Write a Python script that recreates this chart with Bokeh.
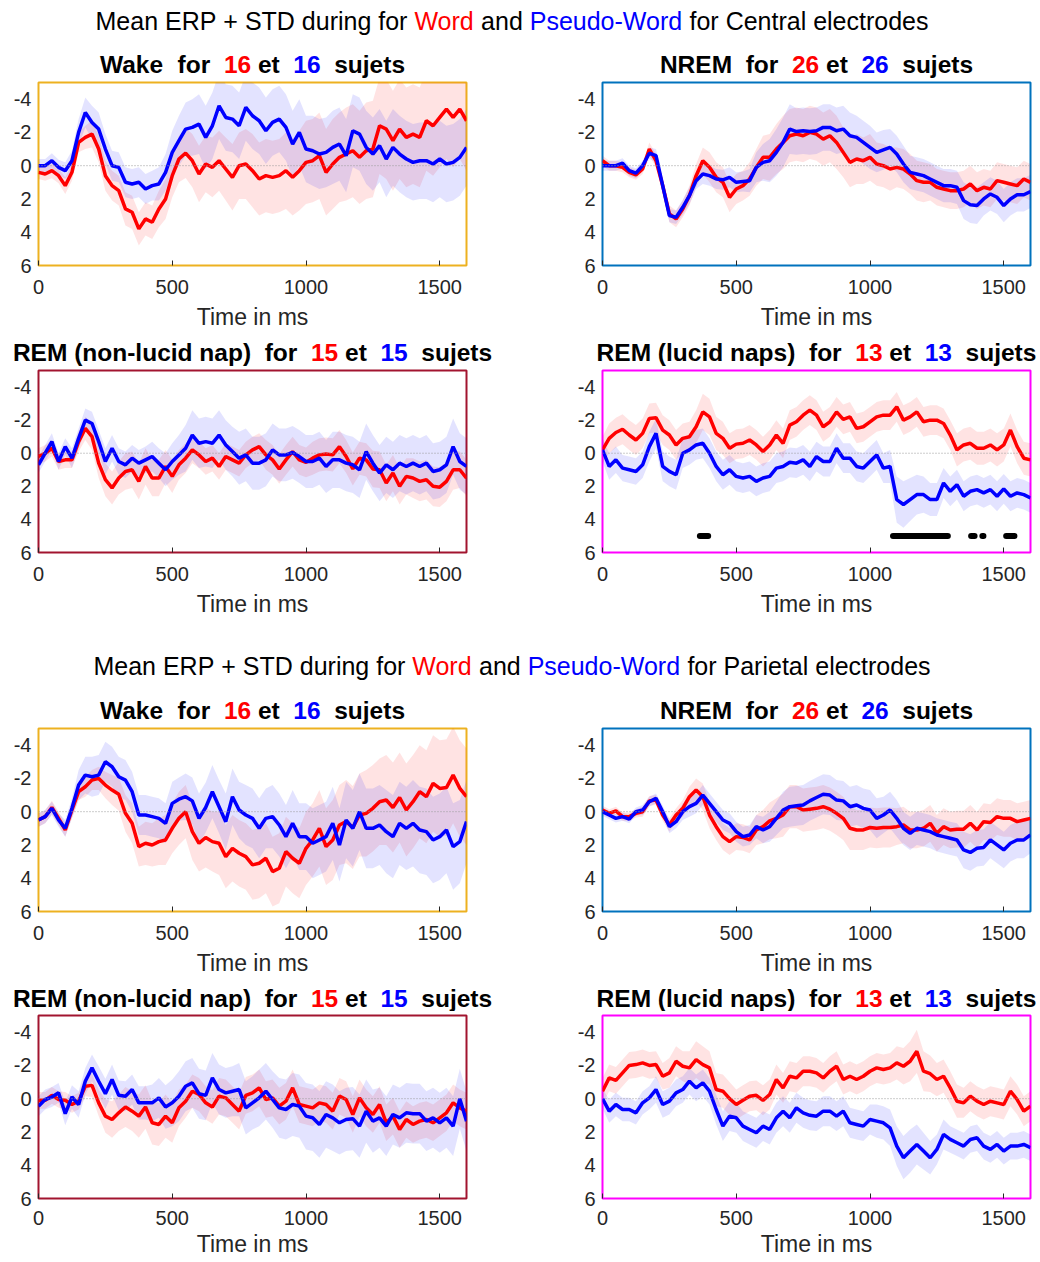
import numpy as np
from bokeh.plotting import figure
from bokeh.models import Range1d, FixedTicker, Span, Label
from bokeh.layouts import column, row
from bokeh.embed import file_html
from bokeh.resources import INLINE

# ---------------- data ----------------
time_ms = np.arange(0, 1601, 25)
x_ticks = [0, 500, 1000, 1500]
y_ticks = [-4, -2, 0, 2, 4, 6]
n_subjects = {"Wake": 16, "NREM": 26, "REM (non-lucid nap)": 15, "REM (lucid naps)": 13}

# Central electrodes
c_wake_word = [0.4,0.5,0.3,0.6,1.2, 0.4,-1.4,-1.7,-1.9,-1.0,
               0.6,1.2,1.5,2.6,2.8, 3.8,3.2,3.4,2.6,2.0,
               0.6,-0.4,-0.76,-0.3,0.5, -0.1,0.1,-0.3,0.2,0.7,
               0.0,-0.1,0.3,0.8,0.6, 0.7,0.6,0.3,0.7,0.3,
               -0.2,-0.3,-0.6,0.4,-0.1, -0.5,-0.7,-0.9,-0.5,-0.9,
               -1.0,-2.4,-2.2,-1.5,-2.2, -1.7,-1.9,-1.7,-2.7,-2.4,
               -2.9,-3.4,-2.9,-3.4,-2.7]
c_wake_pseudo = [0.0,0.0,-0.3,0.1,0.3, -0.3,-2.0,-3.2,-2.6,-2.2,
                 -1.0,0.0,0.1,1.0,1.1, 1.0,1.4,1.2,1.1,0.4,
                 -0.8,-1.5,-2.2,-2.3,-2.5, -1.7,-2.4,-3.6,-2.9,-2.8,
                 -2.4,-3.5,-3.0,-2.7,-2.1, -2.6,-2.8,-2.3,-1.3,-2.0,
                 -1.0,-0.9,-0.7,-0.8,-1.1, -1.3,-0.6,-2.1,-1.9,-1.1,
                 -0.7,-1.2,-0.4,-1.1,-0.7, -0.4,-0.2,-0.3,-0.3,-0.1,
                 -0.4,-0.1,-0.2,-0.5,-1.1]
c_wake_word_sd = [0.4,0.4,0.45,0.45,0.5, 0.5,0.6,0.7,0.8,0.8,
                  0.9,0.9,0.9,1.0,1.0, 1.0,1.0,1.0,1.1,1.2,
                  1.3,1.4,1.5,1.6,1.7, 1.7,1.8,1.8,1.9,2.0,
                  2.0,2.1,2.2,2.2,2.2, 2.2,2.2,2.3,2.3,2.4,
                  2.5,2.5,2.6,2.6,2.7, 2.7,2.8,2.8,2.8,2.9,
                  2.9,2.9,3.0,3.0,3.0, 3.0,3.0,3.0,3.0,3.0,
                  3.0,3.0,3.0,3.0,3.0]
c_wake_pseudo_sd = [0.4,0.4,0.45,0.45,0.5, 0.6,0.8,0.9,1.0,1.0,
                    0.9,0.9,0.9,0.9,0.9, 0.9,0.9,0.9,1.0,1.1,
                    1.3,1.5,1.6,1.7,1.8, 1.9,2.0,2.0,2.0,2.0,
                    2.0,2.0,2.0,2.0,2.0, 2.0,2.0,2.0,2.0,2.0,
                    2.0,2.1,2.1,2.1,2.2, 2.2,2.2,2.2,2.2,2.2,
                    2.2,2.2,2.3,2.3,2.3, 2.3,2.3,2.3,2.3,2.3,
                    2.3,2.3,2.3,2.3,2.3]

c_nrem_word = [-0.3,0.0,0.0,0.1,0.4, 0.55,0.2,-1.0,-0.3,1.2,
               2.9,3.2,2.6,1.8,0.6, -0.3,0.1,0.7,1.0,1.9,
               1.4,1.2,0.8,0.1,-0.5, -0.5,-1.0,-1.4,-1.8,-1.9,
               -1.8,-2.0,-1.9,-1.6,-1.8, -1.4,-0.8,-0.2,-0.4,-0.3,
               -0.5,-0.1,0.0,0.2,0.1, 0.2,0.5,0.9,1.0,1.0,
               1.3,1.4,1.5,1.5,1.4, 1.1,1.5,1.3,1.4,0.9,
               1.0,1.1,1.2,0.8,1.0]
c_nrem_pseudo = [0.0,0.0,0.0,-0.15,0.3, 0.45,0.0,-0.75,-0.6,1.2,
                 3.0,3.1,2.5,1.8,0.9, 0.5,0.6,0.8,0.85,0.7,
                 1.0,0.95,0.9,0.1,-0.2, -0.3,-0.8,-1.4,-2.2,-2.05,
                 -2.1,-2.05,-2.1,-2.3,-2.3, -2.1,-2.2,-1.8,-1.7,-1.4,
                 -1.1,-0.8,-0.95,-1.1,-0.7, -0.1,0.4,0.5,0.6,0.8,
                 1.0,1.2,1.2,1.3,2.1, 2.35,2.4,2.0,1.7,1.9,
                 2.4,2.0,1.75,1.75,1.55]
c_nrem_word_sd = [0.3,0.3,0.3,0.3,0.3, 0.3,0.3,0.4,0.4,0.5,
                  0.5,0.5,0.5,0.6,0.7, 0.8,0.9,0.9,0.9,0.9,
                  0.9,0.9,1.0,1.1,1.3, 1.4,1.5,1.6,1.6,1.6,
                  1.6,1.6,1.6,1.6,1.6, 1.6,1.5,1.5,1.5,1.4,
                  1.4,1.3,1.3,1.3,1.2, 1.2,1.2,1.2,1.2,1.1,
                  1.1,1.1,1.1,1.1,1.1, 1.1,1.1,1.1,1.1,1.1,
                  1.1,1.1,1.1,1.1,1.1]
c_nrem_pseudo_sd = [0.3,0.3,0.3,0.3,0.3, 0.3,0.3,0.35,0.4,0.4,
                    0.4,0.4,0.45,0.5,0.5, 0.6,0.6,0.6,0.6,0.6,
                    0.6,0.6,0.7,0.9,1.1, 1.3,1.4,1.5,1.5,1.4,
                    1.4,1.4,1.4,1.4,1.4, 1.4,1.4,1.4,1.3,1.3,
                    1.3,1.2,1.2,1.1,1.1, 1.1,1.0,1.0,1.0,1.0,
                    1.0,1.0,1.0,1.0,1.1, 1.1,1.1,1.0,1.0,1.0,
                    1.0,1.0,1.0,1.0,1.0]

c_remnl_word = [0.2,0.0,-0.3,0.5,0.4, 0.4,-0.7,-1.5,-1.0,0.6,
                1.6,2.1,1.5,1.1,1.0, 1.7,0.8,1.5,1.5,0.8,
                1.4,0.7,0.3,-0.2,0.1, 0.5,0.3,0.8,0.2,0.4,
                0.6,0.1,-0.2,-0.4,0.1, 0.4,0.95,0.4,-0.1,0.4,
                0.55,0.3,0.1,0.05,0.1, -0.4,0.2,0.95,0.3,0.4,
                0.95,1.0,1.8,1.2,2.0, 1.4,1.5,1.7,1.6,2.0,
                2.05,1.7,1.0,1.0,1.5]
c_remnl_pseudo = [0.7,0.0,-0.7,0.5,-0.4, 0.3,-0.9,-2.0,-1.8,-0.7,
                  0.5,-0.3,0.5,0.7,0.3, 0.6,0.4,0.2,0.6,1.0,
                  0.5,0.1,-0.3,-1.1,-0.6, -0.7,-0.6,-1.1,-0.5,-0.1,
                  0.3,0.1,0.6,0.6,0.4, -0.2,0.1,0.1,-0.05,0.2,
                  0.5,0.5,0.3,0.8,0.4, 0.4,0.6,0.7,1.0,-0.1,
                  0.6,1.2,0.7,1.0,0.6, 0.8,0.6,0.8,0.6,1.1,
                  1.0,0.7,-0.4,0.5,0.8]
c_remnl_word_sd = [0.5,0.5,0.5,0.5,0.5, 0.5,0.6,0.7,0.8,0.9,
                   1.0,1.0,1.0,1.1,1.1, 1.1,1.1,1.1,1.1,1.0,
                   1.0,0.9,0.9,0.8,0.8, 0.8,0.8,0.8,0.8,0.8,
                   0.8,0.8,0.8,0.8,0.9, 0.9,0.9,0.9,0.9,0.9,
                   0.9,1.0,1.0,1.0,1.0, 1.0,1.0,1.0,1.0,1.0,
                   1.1,1.1,1.1,1.1,1.1, 1.1,1.2,1.2,1.2,1.2,
                   1.2,1.2,1.2,1.1,1.1]
c_remnl_pseudo_sd = [0.5,0.5,0.5,0.5,0.5, 0.6,0.6,0.7,0.7,0.7,
                     0.8,0.8,0.8,0.8,0.8, 0.8,0.8,0.9,0.9,1.0,
                     1.1,1.2,1.4,1.5,1.5, 1.5,1.5,1.5,1.5,1.5,
                     1.6,1.6,1.6,1.6,1.6, 1.6,1.6,1.6,1.6,1.6,
                     1.6,1.6,1.6,1.6,1.7, 1.7,1.7,1.7,1.7,1.7,
                     1.7,1.7,1.7,1.7,1.7, 1.7,1.7,1.7,1.7,1.7,
                     1.7,1.7,1.7,1.7,1.7]

c_lucid_word = [-0.2,-0.9,-1.25,-1.45,-1.1, -0.8,-1.2,-2.1,-2.15,-1.4,
                -1.1,-0.5,-0.9,-1.0,-1.6, -2.5,-2.2,-1.2,-0.9,-0.3,
                -0.55,-0.6,-0.8,-0.5,-0.1, -0.5,-1.1,-0.6,-1.7,-1.9,
                -2.3,-2.6,-2.3,-1.6,-1.9, -2.5,-2.05,-2.2,-1.5,-1.6,
                -1.9,-2.2,-2.3,-2.3,-2.8, -2.0,-2.2,-2.5,-1.9,-2.0,
                -2.0,-1.8,-1.1,-0.2,-0.5, -0.6,-0.3,-0.3,-0.5,-0.2,
                -0.5,-1.4,-0.4,0.3,0.4]
c_lucid_pseudo = [-0.2,0.8,0.4,0.9,1.0, 1.1,0.7,-0.4,-1.2,0.8,
                  1.1,1.3,0.0,-0.2,-0.5, -0.6,0.0,0.8,1.3,1.0,
                  1.4,1.5,1.4,1.7,1.5, 1.4,0.9,0.8,0.55,0.6,
                  0.4,0.8,0.2,0.5,0.5, -0.3,0.3,0.3,0.8,0.9,
                  0.5,0.1,0.9,0.8,2.8, 3.1,2.8,2.5,2.5,2.8,
                  2.8,1.8,2.3,1.9,2.6, 2.3,2.2,2.4,2.2,2.6,
                  2.15,2.6,2.4,2.5,2.7]
c_lucid_word_sd = [0.8,0.9,0.9,0.9,0.9, 0.9,0.9,0.9,0.9,0.9,
                   0.9,0.9,0.9,0.9,1.0, 1.1,1.1,1.0,1.0,0.9,
                   0.9,0.9,0.9,0.9,0.9, 0.9,0.9,0.9,0.9,0.9,
                   0.9,0.9,0.9,0.9,0.9, 0.9,0.9,0.9,0.9,0.9,
                   0.9,0.9,0.9,0.9,0.9, 0.9,0.9,0.9,0.9,0.9,
                   0.9,0.9,0.9,1.0,1.0, 1.0,1.0,1.0,1.0,1.0,
                   1.0,1.0,1.0,1.0,1.0]
c_lucid_pseudo_sd = [0.7,0.8,0.8,0.8,0.8, 0.8,0.8,0.9,0.9,0.9,
                     0.9,0.9,0.9,0.9,0.9, 0.9,0.9,0.9,0.9,0.9,
                     0.9,0.9,0.9,0.9,0.9, 0.9,0.9,0.9,0.9,0.9,
                     0.9,0.9,0.9,0.9,0.9, 0.9,0.9,0.9,0.9,0.9,
                     0.9,0.9,0.9,1.0,1.4, 1.4,1.3,1.2,1.1,1.0,
                     1.0,0.9,0.9,0.9,0.9, 0.9,0.9,0.9,0.9,0.9,
                     0.9,0.9,0.9,0.9,0.9]
# significant time windows (Word vs Pseudo-Word), central lucid naps
sig_start = [364, 1086, 1378, 1420, 1509]
sig_end = [395, 1291, 1391, 1424, 1540]
sig_level = 5

# Parietal electrodes
p_wake_word = [0.5,0.3,-0.25,0.4,1.1, -0.1,-1.2,-1.5,-1.9,-2.0,
               -1.6,-1.3,-1.05,0.1,0.7, 2.1,1.9,2.0,1.8,1.7,
               1.0,0.4,0.0,1.2,1.9, 1.55,1.8,1.9,2.7,2.2,
               2.5,2.7,3.2,3.1,2.8, 3.6,3.4,2.4,2.8,3.1,
               2.2,1.7,1.0,2.1,1.7, 0.8,0.6,0.95,0.2,0.1,
               -0.2,-0.6,-0.7,-0.25,-0.85, -0.1,-0.6,-1.2,-0.9,-1.7,
               -1.4,-1.45,-2.2,-1.4,-0.9]
p_wake_pseudo = [0.5,0.3,-0.2,0.5,1.0, -0.2,-1.6,-2.2,-2.1,-2.2,
                 -3.0,-2.7,-2.1,-1.9,-1.2, 0.2,0.2,0.3,0.4,0.7,
                 -0.5,-0.75,-0.9,-0.65,0.4, -0.25,-1.2,-0.3,0.6,-0.9,
                 -0.1,0.2,0.4,1.0,0.4, 0.3,0.8,1.5,0.7,1.5,
                 1.5,1.9,1.7,1.5,0.7, 2.0,0.5,1.0,0.0,1.0,
                 1.0,0.8,1.2,1.5,0.7, 1.0,0.7,1.1,1.2,1.7,
                 1.5,1.1,2.1,1.8,0.6]
p_wake_word_sd = [0.4,0.4,0.4,0.4,0.4, 0.5,0.5,0.6,0.6,0.7,
                  0.8,0.9,1.0,1.1,1.2, 1.2,1.3,1.3,1.4,1.5,
                  1.5,1.6,1.6,1.7,1.7, 1.8,1.8,1.9,1.9,2.0,
                  2.0,2.0,2.1,2.1,2.1, 2.1,2.1,2.1,2.1,2.1,
                  2.2,2.2,2.3,2.3,2.4, 2.4,2.5,2.5,2.5,2.6,
                  2.6,2.6,2.7,2.7,2.7, 2.8,2.8,2.8,2.8,2.9,
                  2.9,2.9,2.9,2.9,2.9]
p_wake_pseudo_sd = [0.4,0.4,0.4,0.4,0.5, 0.6,0.9,1.1,1.2,1.2,
                    1.2,1.2,1.2,1.2,1.2, 1.2,1.2,1.2,1.2,1.2,
                    1.3,1.3,1.4,1.4,1.5, 1.5,1.6,1.6,1.7,1.7,
                    1.7,1.8,1.8,1.8,1.8, 1.9,1.9,1.9,2.0,2.0,
                    2.0,2.1,2.1,2.1,2.2, 2.2,2.3,2.3,2.3,2.4,
                    2.4,2.4,2.5,2.5,2.5, 2.5,2.6,2.6,2.6,2.6,
                    2.6,2.6,2.6,2.5,2.5]

p_nrem_word = [-0.1,0.1,-0.05,0.3,0.3, 0.1,0.0,-0.65,-0.7,0.2,
               0.8,0.2,-0.2,-0.9,-1.3, -0.9,0.2,0.9,1.5,1.8,
               1.5,1.55,1.7,1.1,0.9, 0.55,0.4,0.2,-0.3,-0.3,
               -0.1,-0.15,-0.2,-0.3,-0.15, 0.1,0.4,1.0,1.1,1.1,
               0.95,1.0,0.95,0.95,0.9, 0.8,1.1,1.1,1.0,0.7,
               1.3,0.9,1.1,1.05,1.05, 0.7,1.1,0.6,0.65,0.3,
               0.4,0.4,0.6,0.5,0.4]
p_nrem_pseudo = [0.0,0.2,0.4,0.3,0.45, 0.0,-0.1,-0.6,-0.8,0.0,
                 0.9,0.6,0.0,-0.3,-0.5, -1.0,-0.5,0.0,0.5,0.7,
                 1.2,1.5,1.4,0.9,1.1, 0.9,0.4,-0.1,-0.3,-0.35,
                 -0.4,-0.65,-0.85,-1.05,-1.0, -0.7,-0.65,-0.3,-0.4,-0.2,
                 -0.1,0.4,0.2,-0.1,0.4, 1.0,1.3,1.0,1.1,1.2,
                 1.4,1.5,1.6,1.7,2.3, 2.45,2.2,2.15,1.7,2.0,
                 2.3,1.9,1.7,1.7,1.4]
p_nrem_word_sd = [0.25,0.25,0.25,0.25,0.25, 0.25,0.3,0.3,0.3,0.35,
                  0.4,0.4,0.5,0.6,0.7, 0.8,0.8,0.8,0.8,0.8,
                  0.8,0.8,0.8,0.9,1.0, 1.1,1.2,1.3,1.3,1.3,
                  1.3,1.3,1.3,1.3,1.3, 1.3,1.3,1.3,1.2,1.2,
                  1.2,1.2,1.2,1.2,1.1, 1.1,1.1,1.1,1.1,1.1,
                  1.1,1.1,1.1,1.1,1.1, 1.1,1.1,1.1,1.1,1.1,
                  1.1,1.1,1.1,1.1,1.1]
p_nrem_pseudo_sd = [0.25,0.25,0.25,0.25,0.25, 0.25,0.3,0.3,0.3,0.35,
                    0.4,0.4,0.5,0.6,0.6, 0.6,0.6,0.6,0.6,0.6,
                    0.6,0.6,0.6,0.7,0.8, 0.9,1.0,1.1,1.2,1.2,
                    1.2,1.2,1.2,1.2,1.2, 1.2,1.2,1.2,1.2,1.2,
                    1.2,1.2,1.1,1.1,1.1, 1.0,1.0,1.0,1.0,1.0,
                    1.0,1.0,1.0,1.0,1.1, 1.1,1.1,1.1,1.1,1.1,
                    1.1,1.1,1.1,1.1,1.1]

p_remnl_word = [0.1,0.1,-0.2,0.05,0.1, 0.35,0.15,-0.75,-0.8,0.25,
                1.05,1.25,0.85,0.5,0.75, 1.05,0.5,1.45,1.55,1.05,
                1.45,0.55,0.15,-0.45,-0.25, 0.25,0.5,-0.15,-0.05,0.35,
                0.75,-0.2,-0.35,-0.65,0.05, -0.05,0.45,0.15,-0.65,0.35,
                0.45,0.55,0.25,0.35,0.75, -0.15,0.05,0.95,-0.05,0.55,
                0.95,0.35,1.45,1.05,1.85, 1.25,1.55,1.35,1.25,1.45,
                1.15,0.85,0.25,0.55,0.75]
p_remnl_pseudo = [0.45,0.05,-0.1,-0.35,0.9, -0.1,0.35,-1.05,-1.85,-1.05,
                  -0.3,-1.15,-0.2,-0.15,-0.55, 0.25,0.25,0.25,-0.05,0.5,
                  0.25,-0.15,-0.75,-0.95,-0.3, -0.2,-1.25,-0.55,-0.35,-0.45,
                  -0.55,0.55,0.25,-0.05,-0.45, 0.05,0.55,0.65,0.35,0.45,
                  1.05,1.15,1.55,0.95,1.15, 1.45,1.25,1.2,1.65,0.75,
                  1.35,1.15,1.65,0.95,1.15, 0.85,0.9,0.9,1.35,1.15,
                  1.45,1.15,1.65,0.0,1.35]
p_remnl_word_sd = [0.5,0.5,0.5,0.5,0.5, 0.5,0.5,0.6,0.7,0.8,
                   1.0,1.1,1.1,1.2,1.2, 1.3,1.3,1.3,1.3,1.3,
                   1.2,1.1,1.0,1.0,1.0, 1.0,1.0,1.1,1.1,1.1,
                   1.1,1.1,1.1,1.1,1.1, 1.1,1.1,1.1,1.1,1.1,
                   1.1,1.1,1.1,1.1,1.1, 1.1,1.1,1.1,1.1,1.1,
                   1.1,1.1,1.1,1.1,1.1, 1.1,1.1,1.1,1.1,1.1,
                   1.1,1.1,1.1,1.1,1.1]
p_remnl_pseudo_sd = [0.6,0.6,0.6,0.6,0.7, 0.7,0.8,0.8,0.8,0.9,
                     0.9,0.9,0.9,0.9,0.9, 1.0,1.0,1.1,1.2,1.3,
                     1.4,1.5,1.5,1.5,1.5, 1.5,1.5,1.5,1.5,1.5,
                     1.6,1.6,1.6,1.7,1.7, 1.7,1.8,1.8,1.9,1.9,
                     2.0,2.0,2.0,2.0,2.0, 1.9,1.9,1.9,1.9,1.9,
                     1.9,1.8,1.8,1.8,1.8, 1.8,1.8,1.8,1.8,1.8,
                     1.8,1.8,1.8,1.8,1.8]

p_lucid_word = [-0.45,-1.25,-1.1,-1.55,-2.0, -2.05,-2.15,-2.0,-2.05,-1.35,
                -1.55,-2.25,-1.95,-1.85,-2.35, -2.05,-1.85,-0.55,-0.45,0.0,
                0.35,0.1,-0.15,-0.2,0.1, -0.25,-1.15,-0.65,-1.35,-1.25,
                -1.65,-1.65,-1.55,-1.25,-1.65, -1.95,-1.15,-1.35,-1.15,-1.35,
                -1.65,-1.85,-1.75,-1.85,-2.15, -1.95,-2.25,-2.85,-1.65,-1.5,
                -1.15,-1.35,-0.65,0.15,0.25, -0.15,0.15,0.35,0.15,0.25,
                0.35,-0.45,0.05,0.75,0.45]
p_lucid_pseudo = [0.0,0.75,0.35,0.65,0.65, 0.85,0.25,-0.05,-0.55,0.35,
                  0.15,-0.35,-0.55,-1.05,-0.65, -0.95,-0.45,0.65,1.65,1.05,
                  1.15,1.65,1.85,2.05,1.65, 1.85,1.15,0.75,1.15,0.55,
                  0.85,1.0,1.05,0.75,0.75, 1.05,0.75,1.45,1.55,1.65,
                  1.25,1.35,1.45,1.75,2.85, 3.55,3.15,2.75,3.15,3.55,
                  3.05,2.15,2.45,2.65,2.85, 2.45,2.35,2.85,3.05,2.75,
                  3.15,2.85,2.85,2.75,2.95]
p_lucid_word_sd = [0.8,0.8,0.8,0.8,0.8, 0.8,0.8,0.8,0.8,0.8,
                   0.9,0.9,0.9,1.0,1.1, 1.1,1.0,1.0,1.0,1.0,
                   0.9,0.9,0.9,0.9,0.9, 0.9,0.9,0.9,0.9,0.9,
                   0.9,0.9,0.9,0.9,0.9, 0.9,0.9,0.9,0.9,0.9,
                   0.9,0.9,0.9,0.9,1.0, 1.1,1.2,1.3,1.2,1.1,
                   1.0,1.0,1.0,1.0,0.9, 0.9,0.9,0.9,0.9,0.9,
                   0.9,0.9,0.9,0.9,0.9]
p_lucid_pseudo_sd = [0.6,0.7,0.7,0.7,0.7, 0.7,0.7,0.7,0.8,0.8,
                     0.8,0.8,0.8,0.8,0.8, 0.8,0.8,0.9,0.9,0.9,
                     0.9,0.9,0.9,0.9,0.9, 0.9,0.9,0.9,0.9,0.9,
                     0.9,0.9,0.9,0.9,0.9, 0.9,0.9,0.9,0.9,0.9,
                     0.9,1.0,1.0,1.1,1.2, 1.3,1.3,1.2,1.1,1.0,
                     0.9,0.9,0.8,0.8,0.8, 0.8,0.8,0.8,0.8,0.8,
                     0.8,0.8,0.8,0.8,0.8]

# ---------------- styles ----------------
WORD_COLOR = "#ff0000"
PSEUDO_COLOR = "#0000ff"
BLACK = "#000000"
AXIS_TEXT = "#262626"
FONT = "Liberation Sans"
FRAME = {"Wake": "#EDB120", "NREM": "#0072BD",
         "REM (non-lucid nap)": "#A2142F", "REM (lucid naps)": "#FF00FF"}
PAGE_W = 1040
LEFT_W, RIGHT_W = 528, 512
LEFT_CENTER, RIGHT_CENTER, SUP_CENTER = 252, 816, 511.5

# Arial / Liberation Sans advance widths (per 1000 em)
REG_W = {' ': 278, '+': 584, '-': 333, 'C': 722, 'D': 722, 'E': 667, 'M': 833,
         'P': 667, 'R': 722, 'S': 667, 'T': 611, 'W': 944, 'a': 556, 'c': 500,
         'd': 556, 'e': 556, 'f': 278, 'g': 556, 'i': 222, 'l': 222, 'n': 556,
         'o': 556, 'r': 333, 's': 500, 't': 278, 'u': 556}
BOLD_W = {' ': 278, '(': 333, ')': 333, '-': 333, 'E': 667, 'M': 833, 'N': 722,
          'R': 722, 'W': 944, 'a': 556, 'c': 556, 'd': 611, 'e': 556, 'f': 333,
          'i': 278, 'j': 278, 'k': 556, 'l': 278, 'n': 611, 'o': 611, 'p': 611,
          'r': 389, 's': 556, 't': 333, 'u': 611}


def text_tokens(parts, widths, size):
    tokens, x, cur = [], 0.0, None
    for txt, col in parts:
        for ch in txt:
            w = widths.get(ch, 556) * size / 1000.0
            if ch == " ":
                cur = None
            elif cur is None or cur[1] != col:
                cur = [ch, col, x]
                tokens.append(cur)
            else:
                cur[0] += ch
            x += w
    return tokens, x


def title_parts(state):
    n = n_subjects[state]
    return [(state + "  for  ", BLACK), (str(n), WORD_COLOR), (" et  ", BLACK),
            (str(n), PSEUDO_COLOR), ("  sujets", BLACK)]


def sup_parts(region):
    return [("Mean ERP + STD during for ", BLACK), ("Word", WORD_COLOR), (" and ", BLACK),
            ("Pseudo-Word", PSEUDO_COLOR), (" for " + region + " electrodes", BLACK)]


def header(height, items):
    """items: (parts, center_x, center_y, size, bold)"""
    f = figure(width=PAGE_W, height=height, x_range=Range1d(0, PAGE_W),
               y_range=Range1d(height, 0), x_axis_type=None, y_axis_type=None,
               output_backend="svg", toolbar_location=None, title=None, min_border=0,
               outline_line_color=None, background_fill_color="white",
               border_fill_color="white")
    for parts, cx, cy, size, bold in items:
        tokens, total = text_tokens(parts, BOLD_W if bold else REG_W, size)
        x0 = cx - total / 2
        for tok, col, off in tokens:
            f.add_layout(Label(x=x0 + off, y=cy, text=tok, text_color=col, text_font=FONT,
                               text_font_size=f"{size}px",
                               text_font_style="bold" if bold else "normal",
                               text_align="left", text_baseline="middle"))
    return f


def panel(state, word, word_sd, pseudo, pseudo_sd, left, height, b_bottom,
          tick_standoff=14, label_standoff=7, sig=None):
    width = LEFT_W if left else RIGHT_W
    b_left = 38 if left else 74
    b_right = width - b_left - 428
    b_top = 4
    p = figure(width=width, height=height, x_range=Range1d(0, 1600), y_range=Range1d(6, -5),
               output_backend="svg", toolbar_location=None, title=None,
               min_border_left=b_left, min_border_right=b_right,
               min_border_top=b_top, min_border_bottom=b_bottom,
               background_fill_color="white", border_fill_color="white")
    p.grid.visible = False
    p.outline_line_color = FRAME[state]
    p.outline_line_width = 2
    p.outline_line_alpha = 1.0

    xa = p.xaxis[0]
    xa.ticker = FixedTicker(ticks=x_ticks)
    xa.major_label_overrides = {v: str(v) for v in x_ticks}
    xa.major_tick_in = 5
    xa.major_tick_out = 0
    xa.major_tick_line_color = AXIS_TEXT
    xa.minor_tick_line_color = None
    xa.axis_line_color = None
    xa.major_label_text_font = FONT
    xa.major_label_text_font_size = "20px"
    xa.major_label_text_color = AXIS_TEXT
    xa.major_label_standoff = tick_standoff
    xa.axis_label = "Time in ms"
    xa.axis_label_text_font = FONT
    xa.axis_label_text_font_size = "23px"
    xa.axis_label_text_font_style = "normal"
    xa.axis_label_text_color = AXIS_TEXT
    xa.axis_label_standoff = label_standoff

    ya = p.yaxis[0]
    ya.ticker = FixedTicker(ticks=y_ticks)
    ya.major_label_overrides = {v: str(v) for v in y_ticks}
    ya.major_tick_in = 0
    ya.major_tick_out = 0
    ya.major_tick_line_color = None
    ya.minor_tick_line_color = None
    ya.axis_line_color = None
    ya.major_label_text_font = FONT
    ya.major_label_text_font_size = "20px"
    ya.major_label_text_color = AXIS_TEXT
    ya.major_label_standoff = 7

    p.add_layout(Span(location=0, dimension="width", line_color="#9a9a9a",
                      line_width=1, line_dash="1 2"))

    w = np.array(word); ws = np.array(word_sd)
    ps = np.array(pseudo); pss = np.array(pseudo_sd)
    p.varea(x=time_ms, y1=w - ws, y2=w + ws, fill_color=WORD_COLOR, fill_alpha=0.11)
    p.varea(x=time_ms, y1=ps - pss, y2=ps + pss, fill_color=PSEUDO_COLOR, fill_alpha=0.11)
    p.line(time_ms, w, line_color=WORD_COLOR, line_width=3.5)
    p.line(time_ms, ps, line_color=PSEUDO_COLOR, line_width=3.5)

    if sig is not None:
        s0, s1 = sig
        p.segment(x0=s0, y0=[sig_level] * len(s0), x1=s1, y1=[sig_level] * len(s1),
                  line_color="black", line_width=6, line_cap="round")
    return p


BOLD_SIZE, SUP_SIZE = 24.5, 25

h1 = header(78, [(sup_parts("Central"), SUP_CENTER, 20, SUP_SIZE, False),
                 (title_parts("Wake"), LEFT_CENTER, 64, BOLD_SIZE, True),
                 (title_parts("NREM"), RIGHT_CENTER, 64, BOLD_SIZE, True)])
r1a = panel("Wake", c_wake_word, c_wake_word_sd, c_wake_pseudo, c_wake_pseudo_sd, True, 258, 71)
r1b = panel("NREM", c_nrem_word, c_nrem_word_sd, c_nrem_pseudo, c_nrem_pseudo_sd, False, 258, 71)
h2 = header(30, [(title_parts("REM (non-lucid nap)"), LEFT_CENTER, 16, BOLD_SIZE, True),
                 (title_parts("REM (lucid naps)"), RIGHT_CENTER, 16, BOLD_SIZE, True)])
r2a = panel("REM (non-lucid nap)", c_remnl_word, c_remnl_word_sd, c_remnl_pseudo, c_remnl_pseudo_sd,
            True, 264, 78)
r2b = panel("REM (lucid naps)", c_lucid_word, c_lucid_word_sd, c_lucid_pseudo, c_lucid_pseudo_sd,
            False, 264, 78, sig=(sig_start, sig_end))
h3 = header(94, [(sup_parts("Parietal"), SUP_CENTER, 35, SUP_SIZE, False),
                 (title_parts("Wake"), LEFT_CENTER, 80, BOLD_SIZE, True),
                 (title_parts("NREM"), RIGHT_CENTER, 80, BOLD_SIZE, True)])
r3a = panel("Wake", p_wake_word, p_wake_word_sd, p_wake_pseudo, p_wake_pseudo_sd, True, 258, 71)
r3b = panel("NREM", p_nrem_word, p_nrem_word_sd, p_nrem_pseudo, p_nrem_pseudo_sd, False, 258, 71)
h4 = header(29, [(title_parts("REM (non-lucid nap)"), LEFT_CENTER, 16, BOLD_SIZE, True),
                 (title_parts("REM (lucid naps)"), RIGHT_CENTER, 16, BOLD_SIZE, True)])
r4a = panel("REM (non-lucid nap)", p_remnl_word, p_remnl_word_sd, p_remnl_pseudo, p_remnl_pseudo_sd,
            True, 250, 63, tick_standoff=12, label_standoff=3)
r4b = panel("REM (lucid naps)", p_lucid_word, p_lucid_word_sd, p_lucid_pseudo, p_lucid_pseudo_sd,
            False, 250, 63, tick_standoff=12, label_standoff=3)

layout = column(h1, row(r1a, r1b), h2, row(r2a, r2b), h3, row(r3a, r3b), h4, row(r4a, r4b))

open("out.html", "w").write(file_html(layout, INLINE))
